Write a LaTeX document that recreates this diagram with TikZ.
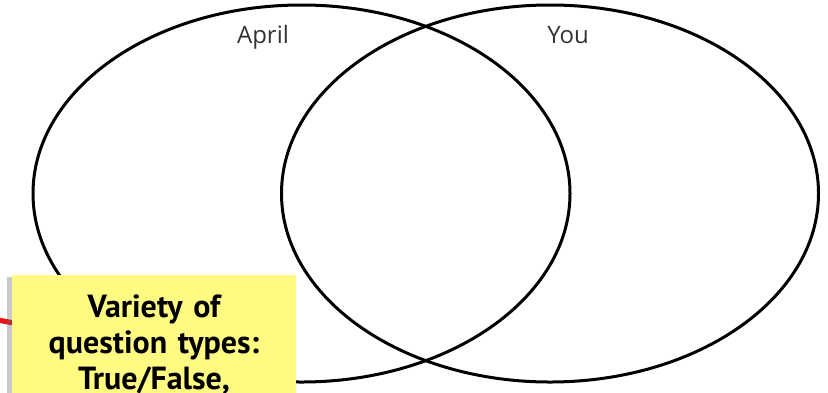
\documentclass[tikz,border=0pt]{standalone}
\usepackage{fontspec}
\setmainfont{Open Sans}
\newfontfamily\notefont{PT Sans}
\usepackage{xcolor}
\usetikzlibrary{positioning, shadows, shapes.geometric}

\definecolor{noteyellow}{HTML}{FFFA82}
\definecolor{pointerred}{HTML}{E8151B}

\begin{document}
\begin{tikzpicture}[x=0.5pt, y=-0.5pt,
  venn/.style={draw, ellipse, line width=1.5pt, minimum width=268.5pt, minimum height=188.5pt, inner sep=0pt},
  setlbl/.style={font=\fontsize{12}{14}\selectfont, text=black!80, inner sep=0pt, anchor=base},
  note/.style={fill=noteyellow, anchor=north, text width=134pt, align=center, inner xsep=4pt, inner ysep=9.5pt,
    font=\notefont\bfseries\fontsize{16}{18}\selectfont,
    drop shadow={shadow xshift=-2.5pt, shadow yshift=-1pt, opacity=0.35, fill=black!60}},
  pointer/.style={draw=pointerred, line width=2.6pt},
]
\useasboundingbox (0,0) rectangle (828,392);
\clip (0,0) rectangle (828,392);

% --- Sets ---
\node[venn] (aprilset) at (301.5,193.5) {};
\node[venn] (youset) at (550,193.5) {};

\node[setlbl] (aprillbl) at (263,43) {April};
\node[setlbl] (youlbl) at (568,43) {You};

% --- Pointer behind the note ---
\coordinate (ptrstart) at (-2,320);
\coordinate (ptrend) at (40,328);
\draw[pointer] (ptrstart) -- (ptrend);

% --- Note ---
\node[note] (varnote) at (154,275) {Variety of\\question types:\\True/False,};

\end{tikzpicture}
\end{document}
